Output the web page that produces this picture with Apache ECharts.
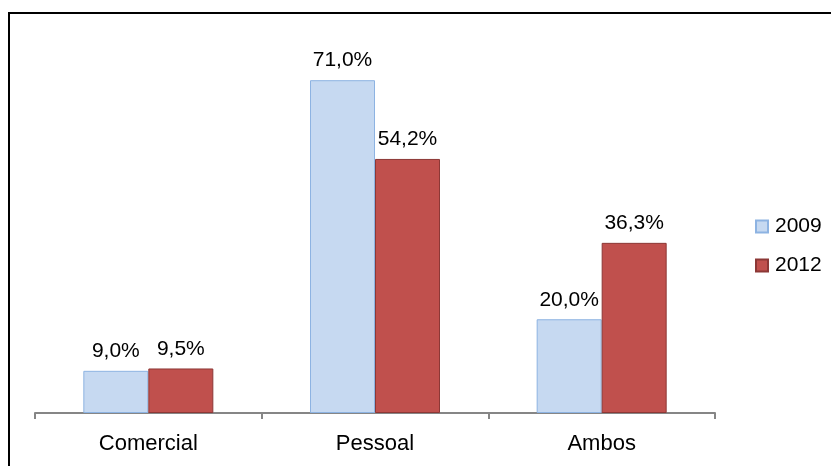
<!DOCTYPE html>
<html>
<head>
<meta charset="utf-8">
<script src="https://cdn.jsdelivr.net/npm/echarts@6/dist/echarts.min.js"></script>
<style>
  html,body{margin:0;padding:0;background:#fff;}
  #wrap{position:relative;width:831px;height:466px;overflow:hidden;}
  #frame{position:absolute;left:8px;top:12px;width:900px;height:500px;border-left:2px solid #000;border-top:2px solid #000;}
  #chart{position:absolute;left:0;top:0;width:831px;height:466px;}
</style>
</head>
<body>
<div id="wrap"><div id="frame"></div><div id="chart"></div></div>
<script>
// categorias e valores (%)
const categories = ['Comercial', 'Pessoal', 'Ambos'];
const v2009 = [9.0, 71.0, 20.0];
const v2012 = [9.5, 54.2, 36.3];

const fmt = p => p.value.toFixed(1).replace('.', ',') + '%';
const font = 'Liberation Sans, Arial, sans-serif';

const c = echarts.init(document.getElementById('chart'));
c.setOption({
  animation:false,
  grid:{ left:35, right:116, top:38, bottom:53 },
  legend:{
    orient:'vertical', left:750, top:211, itemGap:18, itemWidth:12, itemHeight:12,
    icon:'rect',
    textStyle:{ color:'#000', fontSize:21, fontFamily:font, padding:[0,0,0,2] },
    data:['2009','2012']
  },
  xAxis:{
    type:'category', data:categories,
    axisLine:{ lineStyle:{ color:'#868686', width:2 } },
    axisTick:{ show:true, length:6, lineStyle:{ color:'#868686', width:2 } },
    axisLabel:{ color:'#000', fontSize:22, fontFamily:font, margin:20 }
  },
  yAxis:{ type:'value', min:0, max:80, show:false, splitLine:{show:false} },
  series:[
    {
      name:'2009', type:'bar', data:v2009, barWidth:65, barGap:'0%',
      itemStyle:{ color:'#c6d9f1', borderColor:'#8db3e2', borderWidth:1 },
      label:{ show:true, position:'top', distance:9, color:'#000', fontSize:21, fontFamily:font, formatter:fmt }
    },
    {
      name:'2012', type:'bar', data:v2012, barWidth:65,
      itemStyle:{ color:'#c0504d', borderColor:'#8c3836', borderWidth:1 },
      label:{ show:true, position:'top', distance:9, color:'#000', fontSize:21, fontFamily:font, formatter:fmt }
    }
  ]
});
</script>
</body>
</html>
